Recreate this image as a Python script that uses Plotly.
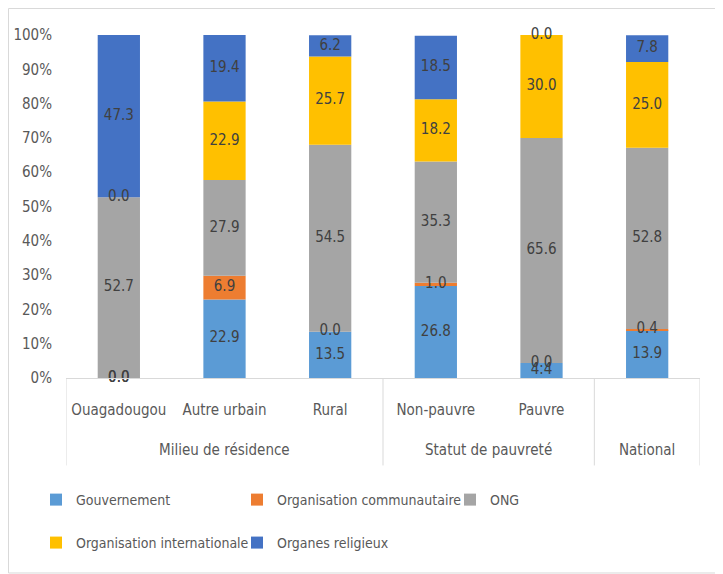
import plotly.graph_objects as go

categories = ["Ouagadougou", "Autre urbain", "Rural", "Non-pauvre", "Pauvre", "National"]
groups = ["Milieu de résidence", "Milieu de résidence", "Milieu de résidence",
          "Statut de pauvreté", "Statut de pauvreté", "National"]
series_names = ["Gouvernement", "Organisation communautaire", "ONG",
                "Organisation internationale", "Organes religieux"]
gouvernement = [0.0, 22.9, 13.5, 26.8, 4.4, 13.9]
communautaire = [0.0, 6.9, 0.0, 1.0, 0.0, 0.4]
ong = [52.7, 27.9, 54.5, 35.3, 65.6, 52.8]
internationale = [0.0, 22.9, 25.7, 18.2, 30.0, 25.0]
religieux = [47.3, 19.4, 6.2, 18.5, 0.0, 7.8]
colors = ["#5B9BD5", "#ED7D31", "#A5A5A5", "#FFC000", "#4472C4"]
y_ticks = [0, 10, 20, 30, 40, 50, 60, 70, 80, 90, 100]
y_tick_labels = [f"{v}%" for v in y_ticks]

FONT = "DejaVu Sans Condensed, sans-serif"
FS = 15
series = [gouvernement, communautaire, ong, internationale, religieux]
xpos = list(range(len(categories)))
tick_text = ["" if c == g else c for c, g in zip(categories, groups)]
legend_ids = ["legend", "legend2", "legend3", "legend4", "legend5"]
legend_pos = [(-0.0473, -0.3557), (0.2697, -0.3557), (0.6057, -0.3557),
              (-0.0473, -0.481), (0.2697, -0.481)]

fig = go.Figure()
base = [0.0] * len(categories)
label_x, label_y, label_t = [], [], []
for k, (name, vals, col) in enumerate(zip(series_names, series, colors)):
    fig.add_trace(go.Bar(x=xpos, y=vals, base=base[:], name=name,
                         marker=dict(color=col, line=dict(width=0)),
                         width=0.4, legend=legend_ids[k]))
    for i, v in enumerate(vals):
        label_x.append(i)
        label_y.append(base[i] + v / 2)
        label_t.append(f"{v:.1f}")
    base = [b + v for b, v in zip(base, vals)]

fig.add_trace(go.Scatter(x=label_x, y=label_y, text=label_t, mode="text",
                         textfont=dict(family=FONT, size=FS, color="#404040"),
                         showlegend=False, hoverinfo="skip", cliponaxis=False))

# group labels
uniq = []
for g in groups:
    if g not in uniq:
        uniq.append(g)
for g in uniq:
    idx = [i for i, gg in enumerate(groups) if gg == g]
    fig.add_annotation(x=sum(idx) / len(idx), y=-0.21, xref="x", yref="paper",
                       text=g, showarrow=False, yanchor="middle",
                       font=dict(family=FONT, size=FS, color="#595959"))
# dividers
bounds = [-0.5]
for i in range(1, len(groups)):
    if groups[i] != groups[i - 1]:
        bounds.append(i - 0.5)
bounds.append(len(groups) - 0.5)
for b in bounds:
    fig.add_shape(type="line", x0=b, x1=b, y0=0, y1=-0.255, xref="x", yref="paper",
                  line=dict(color="#D9D9D9", width=1))

# chart border
fig.add_shape(type="rect", x0=-0.0907, x1=1.0284, y0=-0.5685, y1=1.0773,
              xref="paper", yref="paper",
              line=dict(color="#D9D9D9", width=1), layer="below")

layout_legends = {}
for lid, (lx, ly) in zip(legend_ids, legend_pos):
    layout_legends[lid] = dict(orientation="h", x=lx, y=ly, xanchor="left", yanchor="middle",
                               bgcolor="rgba(0,0,0,0)", itemwidth=30,
                               font=dict(family=FONT, size=14, color="#595959"))

fig.update_layout(
    width=715, height=566,
    margin=dict(l=58, r=23, t=27, b=196),
    paper_bgcolor="white", plot_bgcolor="white",
    barmode="overlay",
    font=dict(family=FONT, size=FS, color="#595959"),
    xaxis=dict(tickvals=xpos, ticktext=tick_text, range=[-0.5, 5.5],
               showline=True, linecolor="#D9D9D9", linewidth=1,
               ticks="outside", ticklen=18, tickcolor="rgba(0,0,0,0)",
               showgrid=False, zeroline=False, automargin=False,
               tickfont=dict(family=FONT, size=FS, color="#595959")),
    yaxis=dict(range=[0, 100], tickvals=y_ticks, ticktext=y_tick_labels,
               showgrid=False, zeroline=False, showline=False, automargin=False,
               ticks="outside", ticklen=10, tickcolor="rgba(0,0,0,0)",
               tickfont=dict(family=FONT, size=FS, color="#595959")),
    showlegend=True,
    **layout_legends,
)

fig.write_html("out.html")
